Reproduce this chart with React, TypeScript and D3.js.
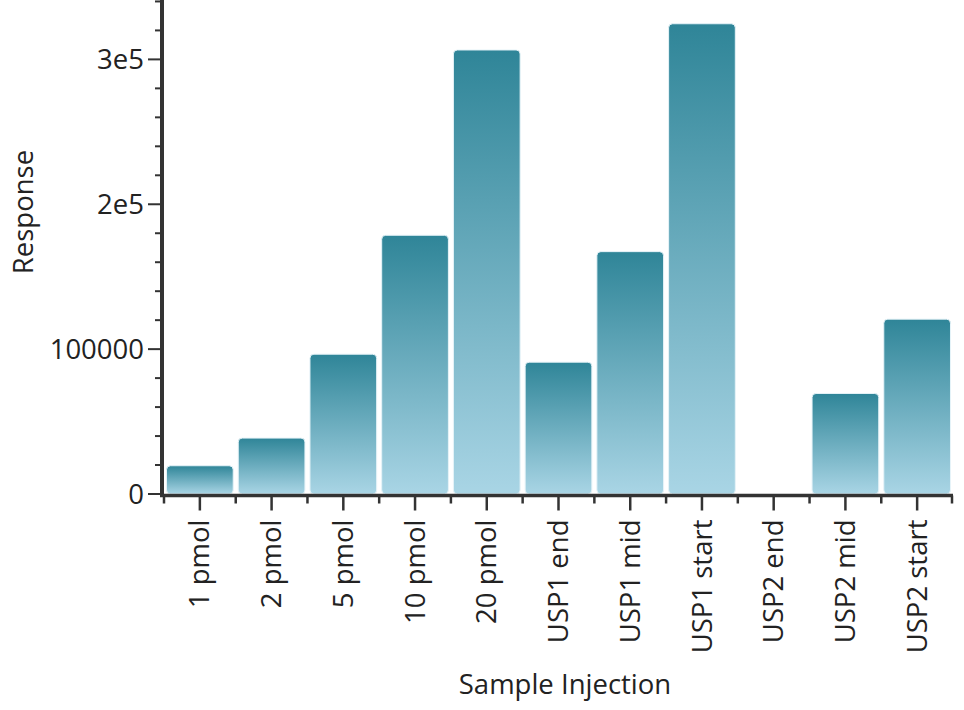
import React, { useEffect, useRef } from "react";
import * as d3 from "d3";

const categories = [
  "1 pmol",
  "2 pmol",
  "5 pmol",
  "10 pmol",
  "20 pmol",
  "USP1 end",
  "USP1 mid",
  "USP1 start",
  "USP2 end",
  "USP2 mid",
  "USP2 start",
];
const responses = [
  19500, 38600, 96500, 178600, 306500, 91000, 167300, 324600, 0, 69400, 120700,
];
const yTicks = [0, 100000, 200000, 300000];
const yTickLabels = ["0", "100000", "2e5", "3e5"];

const width = 964;
const height = 710;
const margin = { top: 0, right: 11, bottom: 216, left: 162 };
const font = "'Open Sans', 'Noto Sans', sans-serif";
const fontSize = 27.5;
const ink = "#333";

const App: React.FC = () => {
  const ref = useRef<SVGSVGElement>(null);

  useEffect(() => {
    if (!ref.current) return;
    const svg = d3.select(ref.current);
    svg.selectAll("*").remove();

    const x = d3
      .scaleBand<string>()
      .domain(categories)
      .range([margin.left + 2, width - margin.right])
      .paddingInner(0.07)
      .paddingOuter(0.035);

    const y = d3
      .scaleLinear()
      .domain([0, 341000])
      .range([height - margin.bottom, margin.top]);

    const defs = svg.append("defs");
    const grad = defs
      .append("linearGradient")
      .attr("id", "barGrad")
      .attr("x1", 0)
      .attr("y1", 0)
      .attr("x2", 0)
      .attr("y2", 1);
    grad.append("stop").attr("offset", "0%").attr("stop-color", "#2f8598");
    grad.append("stop").attr("offset", "100%").attr("stop-color", "#a9d5e5");

    const rows = categories.map((c, i) => ({ c, v: responses[i] })).filter((d) => d.v > 0);

    // bars
    svg
      .append("g")
      .selectAll("rect")
      .data(rows)
      .join("rect")
      .attr("x", (d) => x(d.c) as number)
      .attr("width", x.bandwidth())
      .attr("y", (d) => y(d.v))
      .attr("height", (d) => y(0) - y(d.v))
      .attr("rx", 4)
      .attr("fill", "url(#barGrad)")
      .attr("stroke", "#e6f3f8")
      .attr("stroke-width", 1);

    const base = y(0) + 1.5;
    const axisG = svg.append("g").attr("stroke", ink);

    // y minor ticks
    const minor = d3.range(20000, 341000, 20000).filter((v) => v % 100000 !== 0);
    axisG
      .selectAll("line.minor")
      .data(minor)
      .join("line")
      .attr("x1", margin.left - 7)
      .attr("x2", margin.left)
      .attr("y1", (d) => y(d))
      .attr("y2", (d) => y(d))
      .attr("stroke-width", 2);

    // y major ticks
    axisG
      .selectAll("line.major")
      .data(yTicks)
      .join("line")
      .attr("x1", margin.left - 14)
      .attr("x2", margin.left)
      .attr("y1", (d) => y(d))
      .attr("y2", (d) => y(d))
      .attr("stroke-width", 2);

    // x boundary ticks
    const bounds = categories.map((c) => (x(c) as number) - (x.step() * x.paddingInner()) / 2);
    bounds.push(width - margin.right - 1);
    axisG
      .selectAll("line.bound")
      .data(bounds)
      .join("line")
      .attr("x1", (d) => d)
      .attr("x2", (d) => d)
      .attr("y1", base)
      .attr("y2", base + 8)
      .attr("stroke-width", 2.5);

    // x category ticks
    axisG
      .selectAll("line.cat")
      .data(categories)
      .join("line")
      .attr("x1", (d) => (x(d) as number) + x.bandwidth() / 2)
      .attr("x2", (d) => (x(d) as number) + x.bandwidth() / 2)
      .attr("y1", base)
      .attr("y2", base + 15)
      .attr("stroke-width", 2.5);

    // axis lines
    axisG
      .append("line")
      .attr("x1", margin.left)
      .attr("x2", margin.left)
      .attr("y1", 0)
      .attr("y2", base + 1.5)
      .attr("stroke-width", 4);
    axisG
      .append("line")
      .attr("x1", margin.left - 2)
      .attr("x2", width - margin.right)
      .attr("y1", base)
      .attr("y2", base)
      .attr("stroke-width", 3.5);

    // y labels
    svg
      .append("g")
      .selectAll("text")
      .data(yTicks)
      .join("text")
      .attr("x", margin.left - 18)
      .attr("y", (d) => y(d))
      .attr("dy", "0.35em")
      .attr("text-anchor", "end")
      .attr("font-family", font)
      .attr("font-size", fontSize)
      .attr("fill", "#222")
      .text((_, i) => yTickLabels[i]);

    // x labels
    svg
      .append("g")
      .selectAll("text")
      .data(categories)
      .join("text")
      .attr(
        "transform",
        (d) => `translate(${(x(d) as number) + x.bandwidth() / 2},${base + 24}) rotate(-90)`
      )
      .attr("dy", "0.35em")
      .attr("text-anchor", "end")
      .attr("font-family", font)
      .attr("font-size", fontSize)
      .attr("fill", "#222")
      .text((d) => d);

    // axis titles
    svg
      .append("text")
      .attr("x", 565)
      .attr("y", 694)
      .attr("text-anchor", "middle")
      .attr("font-family", font)
      .attr("font-size", fontSize)
      .attr("fill", "#222")
      .text("Sample Injection");

    svg
      .append("text")
      .attr("transform", `translate(23,212) rotate(-90)`)
      .attr("dy", "0.35em")
      .attr("text-anchor", "middle")
      .attr("font-family", font)
      .attr("font-size", fontSize)
      .attr("fill", "#222")
      .text("Response");
  }, []);

  return (
    <div style={{ position: "absolute", left: 0, top: 0, width, height, background: "#fff" }}>
      <svg ref={ref} width={width} height={height} viewBox={`0 0 ${width} ${height}`}></svg>
    </div>
  );
};

export default App;
